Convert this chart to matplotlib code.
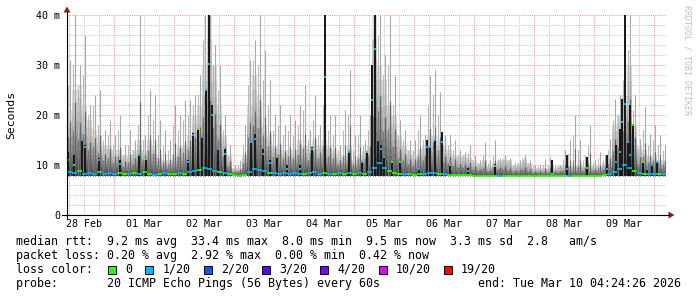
import numpy as np
import matplotlib
matplotlib.use("Agg")
import matplotlib.pyplot as plt
from matplotlib.patches import Polygon, Rectangle
from matplotlib.lines import Line2D

plt.rcParams['font.family'] = ['DejaVu Sans Mono']

W, H = 697, 297

# ------------------------------------------------------------------ data
# time axis: hours since 28 Feb 00:00; one column every 2 h from 06:00
col_start_h = 6
col_step_h = 2
floor_ms = 7.8

median_ms = [
    # 28 Feb (06-22h)
    8.6, 8.4, 8.8, 8.3, 8.5, 8.2, 8.6, 8.3, 8.4,
    # 01 Mar
    8.3, 8.5, 8.2, 8.2, 8.4, 8.3, 8.6, 8.2, 8.1, 8.3, 8.4, 8.2,
    # 02 Mar
    8.3, 8.4, 8.2, 8.6, 8.8, 9.0, 9.4, 9.2, 8.9, 8.6, 8.5, 8.2,
    # 03 Mar
    8.0, 7.9, 8.1, 8.6, 9.3, 9.0, 8.8, 8.5, 8.4, 8.3, 8.4, 8.3,
    # 04 Mar
    8.4, 8.2, 8.3, 8.5, 8.6, 8.3, 8.4, 8.2, 8.3, 8.4, 8.3, 8.5,
    # 05 Mar
    8.2, 8.4, 8.3, 8.6, 9.5, 10.5, 9.5, 8.8, 8.4, 8.3, 8.2, 8.2,
    # 06 Mar
    8.1, 8.2, 8.3, 8.5, 8.4, 8.2, 8.3, 8.1, 8.0, 8.0, 8.1, 8.0,
    # 07 Mar
    7.9, 7.9, 7.8, 7.8, 7.9, 7.9, 7.9, 7.8, 7.8, 7.8, 7.8, 7.8,
    # 08 Mar
    7.9, 7.8, 7.8, 7.8, 7.8, 7.8, 7.8, 7.9, 7.8, 7.8, 7.8, 7.9,
    # 09 Mar
    7.9, 7.9, 8.0, 8.2, 8.6, 9.2, 10.0, 9.5, 8.8, 8.4, 8.3, 8.3,
    # 10 Mar
    8.2, 8.3, 8.2,
]

loss_idx = [
    1, 1, 0, 1, 1, 1, 0, 1, 1,
    1, 0, 0, 1, 0, 1, 0, 0, 1, 0, 1, 0,
    0, 1, 0, 1, 1, 0, 1, 1, 1, 0, 1, 0,
    0, 0, 0, 1, 1, 1, 1, 0, 1, 1, 1, 1,
    1, 1, 0, 1, 1, 1, 0, 1, 0, 1, 0, 1,
    0, 1, 0, 1, 1, 1, 1, 0, 0, 0, 1, 0,
    0, 0, 1, 1, 1, 0, 1, 0, 0, 0, 0, 0,
    0, 0, 0, 0, 0, 1, 0, 0, 0, 0, 0, 0,
    0, 0, 0, 0, 0, 0, 0, 1, 0, 0, 0, 0,
    0, 0, 0, 1, 1, 1, 1, 1, 0, 1, 0, 1,
    1, 0, 1,
]

smoke_top_ms = [
    21, 25, 26, 22, 19, 17, 16, 14, 14,
    13, 13, 12, 12, 13, 15, 13, 15, 14, 12, 11, 11,
    12, 14, 14, 16, 20, 22, 30, 40, 30, 22, 16, 12,
    9.5, 9.5, 12, 22, 28, 24, 18, 16, 14, 14, 13, 13,
    13, 15, 14, 14, 15, 14, 15, 14, 13, 12, 12, 14,
    11, 12, 13, 14, 40, 30, 27, 22, 20, 16, 14, 13,
    12, 13, 14, 16, 16, 15, 14, 13, 12, 12, 12, 11.5,
    11, 10.5, 11, 10, 10.5, 11, 11.5, 11, 10, 10.5, 11.5, 10.5,
    9.5, 9.5, 9.5, 9.5, 9.5, 10, 10, 10, 10, 10.5, 10, 10,
    10, 10, 10.5, 12, 18, 20, 24, 30, 18, 14, 13, 12,
    12, 11, 11,
]

peak_ms = [
    31, 40, 30, 36, 22, 24, 25, 17, 19,
    16, 20, 14, 17, 15, 40, 16, 25, 24, 19, 17, 15,
    22, 20, 23, 23, 24, 28, 40, 40, 34, 30, 20, 14,
    10, 11, 18, 31, 35, 40, 33, 27, 20, 22, 18, 20,
    19, 22, 26, 17, 24, 18, 40, 20, 20, 14, 21, 29,
    16, 20, 15, 20, 40, 40, 32, 40, 28, 19, 17, 15,
    15, 20, 16, 28, 29, 24.7, 16, 16, 15, 13, 12.7, 14,
    12, 11, 14.7, 11, 15, 11.5, 12, 11.5, 10.5, 11, 12, 11,
    10, 10, 11.3, 11.7, 10, 10, 13, 15, 20, 15, 12, 18,
    11, 12.7, 12, 15.3, 23.3, 24, 31, 40, 24, 15.3, 21.7, 16.3,
    18, 16, 14,
]

# second-highest thin spike in each column
peak2_ms = [
    26, 30, 25, 28, 20, 22, 18, 15, 16,
    14, 17, 12, 14, 13, 18, 15, 20, 19, 16, 14, 13,
    18, 17, 19, 20, 22, 24, 35, 38, 30, 25, 17, 12,
    9.5, 10, 14, 26, 31, 30, 27, 22, 17, 18, 16, 17,
    16, 18, 21, 15, 19, 16, 22, 17, 16, 13, 17, 20,
    13, 16, 14, 17, 35, 36, 28, 30, 22, 16, 15, 13,
    13, 17, 15, 22, 24, 20, 14, 14, 13, 12, 12, 12.5,
    11, 10.5, 12, 10.5, 12, 11, 11, 11, 10, 10.5, 11, 10.5,
    9.8, 9.8, 10, 10, 9.8, 9.8, 11, 12.5, 16, 13, 11, 14,
    10.5, 11.5, 11, 13, 19, 20, 27, 33, 21, 13, 17, 14,
    15, 14, 13,
]

# short bursts where the median itself jumped (dark bars with median dot)
burst_h = [5.6, 8.0, 11.2, 12.4, 18.0, 26.4, 34.0, 36.8, 53.6, 55.6,
           57.6, 59.2, 60.8, 62.0, 63.2, 65.6, 68.4, 78.8, 80.4, 83.6,
           86.4, 89.2, 93.2, 98.4, 103.2, 108.4, 118.0, 123.2, 125.2, 127.2,
           128.4, 129.6, 130.8, 132.0, 135.2, 138.4, 146.0, 149.2, 150.4, 152.4,
           155.2, 158.4, 165.6, 176.4, 199.2, 205.2, 213.2, 221.2, 224.8, 226.4,
           227.2, 228.4, 229.6, 230.4, 231.6, 235.6, 237.2, 239.2, 241.2]
burst_top_ms = [12.7, 12.0, 15.3, 14.0, 11.5, 11.0, 12.0, 11.2, 11.0, 16.4,
                17.3, 15.7, 25.0, 40.0, 22.0, 13.3, 13.3, 14.7, 16.3, 13.3,
                11.0, 11.7, 10.0, 10.0, 13.7, 40.0, 12.7, 10.7, 12.7, 30.0,
                40.0, 15.3, 14.0, 11.7, 10.7, 10.7, 9.3, 15.0, 13.7, 15.0,
                16.7, 10.0, 9.5, 10.2, 11.0, 12.0, 11.7, 12.0, 14.0, 17.3,
                23.3, 40.0, 14.7, 22.0, 18.0, 10.7, 9.3, 10.0, 10.7]
burst_med_ms = [11.0, 10.1, 15.0, 13.7, 11.0, 10.3, 12.0, 11.2, 10.7, 16.0,
                17.3, 15.7, 25.0, 30.3, 20.0, 13.3, 12.3, 14.7, 15.3, 12.3,
                10.4, 11.7, 9.3, 9.3, 13.3, 27.7, 12.7, 10.7, 12.7, 23.0,
                33.3, 15.0, 13.3, 11.7, 10.7, 10.7, 9.3, 13.7, 13.7, 15.0,
                14.7, 10.0, 8.9, 9.9, 8.3, 9.3, 9.5, 9.3, 10.7, 12.7,
                18.7, 22.3, 14.7, 12.0, 18.0, 10.7, 9.3, 10.0, 10.7]
burst_loss = [1, 0, 1, 1, 1, 1, 1, 0, 1, 1,
              0, 1, 1, 1, 1, 1, 1, 1, 1, 1,
              1, 0, 1, 1, 1, 1, 1, 1, 0, 1,
              1, 1, 1, 1, 0, 0, 1, 1, 1, 1,
              1, 0, 1, 0, 0, 1, 0, 1, 1, 1,
              1, 1, 1, 1, 0, 0, 1, 1, 1]

y_ticks = [0, 10, 20, 30, 40]
y_tick_labels = ['0', '10 m', '20 m', '30 m', '40 m']
day_labels = ['28 Feb', '01 Mar', '02 Mar', '03 Mar', '04 Mar',
              '05 Mar', '06 Mar', '07 Mar', '08 Mar', '09 Mar']

loss_labels = ['0', '1/20', '2/20', '3/20', '4/20', '10/20', '19/20']
loss_colors = ['#26ff00', '#00b8ff', '#0059ff', '#5e00ff', '#7e00ff',
               '#dd00ff', '#ff0000']

stats_rtt = "median rtt:  9.2 ms avg  33.4 ms max  8.0 ms min  9.5 ms now  3.3 ms sd  2.8   am/s"
stats_loss = "packet loss: 0.20 % avg  2.92 % max  0.00 % min  0.42 % now"
probe_text = "probe:       20 ICMP Echo Pings (56 Bytes) every 60s"
end_text = "end: Tue Mar 10 04:24:26 2026"

# ------------------------------------------------------------------ figure
fig = plt.figure(figsize=(W / 100, H / 100), dpi=100)
fig.patch.set_facecolor('white')


def P(x, y):
    return x / W, 1 - y / H


ax_l, ax_r, ax_t, ax_b = 67, 666, 15, 215
ax = fig.add_axes([ax_l / W, 1 - ax_b / H, (ax_r - ax_l) / W, (ax_b - ax_t) / H])
ax.set_facecolor('white')
px_per_h = 2.5
x0_h = (ax_l - 54) / px_per_h
x1_h = (ax_r - 54) / px_per_h
ax.set_xlim(x0_h, x1_h)
ax.set_ylim(0, 40)
for s in ax.spines.values():
    s.set_visible(False)

# grid
grid_gray = '#c8c8c8'
grid_red = '#eaa2a2'
for y in range(2, 41, 2):
    ax.axhline(y, color=grid_red if y % 10 == 0 else grid_gray, lw=0.75,
               linestyle=(0, (1, 1)), zorder=0.5)
for h in range(6, 250, 6):
    if x0_h < h < x1_h:
        ax.axvline(h, color=grid_red if h % 24 == 0 else grid_gray, lw=0.75,
                   linestyle=(0, (1, 1)), zorder=0.5)

# smoke
t = col_start_h + col_step_h * np.arange(len(median_ms))
med = np.array(median_ms, dtype=float)
top = np.array(smoke_top_ms, dtype=float)
pk = np.array(peak_ms, dtype=float)
pk2 = np.array(peak2_ms, dtype=float)
N = 10
for k in range(N):
    f = (1 - k / N) ** 1.6
    level = 0.87 - 0.67 * (k / (N - 1))
    lt = med + (top - med) * f
    ax.bar(t, lt - floor_ms, bottom=floor_ms, width=col_step_h,
           color=str(round(level, 3)), linewidth=0, antialiased=False, zorder=2)

# thin spikes (max pings)
ax.vlines(t + 0.5, floor_ms, pk, colors='#a8a8a8', lw=0.8, zorder=3)
ax.vlines(t + 0.5, floor_ms, med + 0.45 * (pk - med), colors='#666666', lw=0.8, zorder=3)
ax.vlines(t - 0.55, floor_ms, pk2, colors='#b8b8b8', lw=0.8, zorder=3)
ax.vlines(t - 0.55, floor_ms, med + 0.4 * (pk2 - med), colors='#777777', lw=0.8, zorder=3)

# dark bursts
bh = np.array(burst_h)
ax.bar(bh, np.array(burst_top_ms) - floor_ms, bottom=floor_ms, width=0.9,
       color='#1a1a1a', linewidth=0, zorder=4)

# median line (coloured by loss)
ax.hlines(med, t - col_step_h / 2, t + col_step_h / 2,
          colors=[loss_colors[i] for i in loss_idx], lw=1.25, zorder=5)
ax.hlines(burst_med_ms, bh - 0.55, bh + 0.55,
          colors=[loss_colors[i] for i in burst_loss], lw=1.4, zorder=6)

# ticks / labels
ax.set_yticks(y_ticks)
ax.set_yticklabels(y_tick_labels)
ax.set_xticks([12 + 24 * k for k in range(len(day_labels))])
ax.set_xticklabels(day_labels)
ax.tick_params(axis='y', length=0, pad=5.0, labelsize=7.2)
ax.tick_params(axis='x', length=0, pad=3.2, labelsize=7.2)

# axis lines and arrows
fig.add_artist(Line2D([62 / W, 669 / W], [1 - 215 / H, 1 - 215 / H], color='black', lw=0.8))
fig.add_artist(Line2D([67 / W, 67 / W], [1 - 218 / H, 1 - 12 / H], color='black', lw=0.8))
fig.add_artist(Polygon([P(63.5, 12.5), P(70.5, 12.5), P(67, 6.5)], closed=True,
                       transform=fig.transFigure, facecolor='#8b1a1a', edgecolor='none'))
fig.add_artist(Polygon([P(668.5, 211.5), P(668.5, 218.5), P(674.5, 215)], closed=True,
                       transform=fig.transFigure, facecolor='#8b1a1a', edgecolor='none'))

fig.text(*P(11, 115), 'Seconds', rotation=90, ha='center', va='center', fontsize=8.2)
fig.text(*P(687.5, 5), 'RRDTOOL / TOBI OETIKER', rotation=270, ha='center', va='top',
         fontsize=6.0, color='#c0c0c0')

# legend text
fs = 8.4
fig.text(*P(16, 245.3), stats_rtt, fontsize=fs, va='baseline')
fig.text(*P(16, 259.0), stats_loss, fontsize=fs, va='baseline')
fig.text(*P(16, 273.0), 'loss color:', fontsize=fs, va='baseline')
bx = 108.0
for lab, col in zip(loss_labels, loss_colors):
    x0, y0 = P(bx, 273.7)
    fig.add_artist(Rectangle((x0, y0), 8 / W, 8 / H, transform=fig.transFigure,
                             facecolor=col, edgecolor='black', lw=0.7))
    fig.text(*P(bx + 17, 273.0), lab, fontsize=fs, va='baseline')
    bx += 30.5 + 6.95 * len(lab)
fig.text(*P(16, 286.8), probe_text, fontsize=fs, va='baseline')
fig.text(*P(681, 286.8), end_text, fontsize=fs, va='baseline', ha='right')

fig.savefig('out.png', dpi=100, facecolor='white')
